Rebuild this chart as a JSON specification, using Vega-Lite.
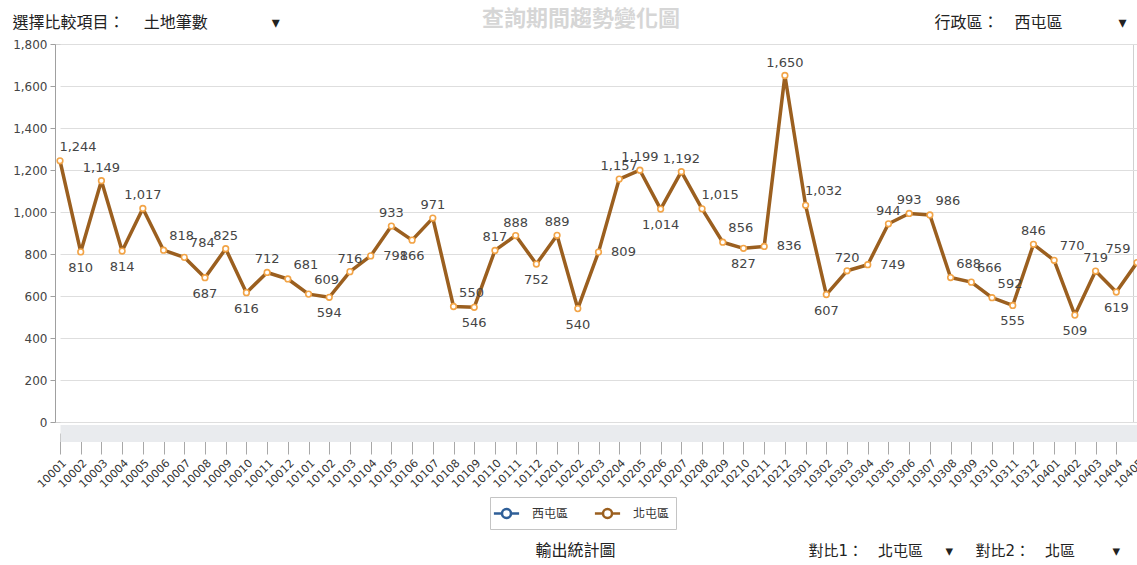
{
  "$schema": "https://vega.github.io/schema/vega-lite/v6.json",
  "width": 1078,
  "height": 378,
  "autosize": "none",
  "padding": {"left": 55, "top": 44, "right": 4, "bottom": 143},
  "background": "white",
  "title": {
    "text": "查詢期間趨勢變化圖",
    "color": "#d6d6d6",
    "fontSize": 22,
    "fontWeight": "bold",
    "font": "Noto Sans CJK TC",
    "anchor": "middle",
    "dx": -13,
    "dy": 25,
    "offset": 8
  },
  "data": {
    "values": [
      {"m": "10001", "v": 1244, "s": "北屯區"},
      {"m": "10002", "v": 810, "s": "北屯區"},
      {"m": "10003", "v": 1149, "s": "北屯區"},
      {"m": "10004", "v": 814, "s": "北屯區"},
      {"m": "10005", "v": 1017, "s": "北屯區"},
      {"m": "10006", "v": 818, "s": "北屯區"},
      {"m": "10007", "v": 784, "s": "北屯區"},
      {"m": "10008", "v": 687, "s": "北屯區"},
      {"m": "10009", "v": 825, "s": "北屯區"},
      {"m": "10010", "v": 616, "s": "北屯區"},
      {"m": "10011", "v": 712, "s": "北屯區"},
      {"m": "10012", "v": 681, "s": "北屯區"},
      {"m": "10101", "v": 609, "s": "北屯區"},
      {"m": "10102", "v": 594, "s": "北屯區"},
      {"m": "10103", "v": 716, "s": "北屯區"},
      {"m": "10104", "v": 791, "s": "北屯區"},
      {"m": "10105", "v": 933, "s": "北屯區"},
      {"m": "10106", "v": 866, "s": "北屯區"},
      {"m": "10107", "v": 971, "s": "北屯區"},
      {"m": "10108", "v": 550, "s": "北屯區"},
      {"m": "10109", "v": 546, "s": "北屯區"},
      {"m": "10110", "v": 817, "s": "北屯區"},
      {"m": "10111", "v": 888, "s": "北屯區"},
      {"m": "10112", "v": 752, "s": "北屯區"},
      {"m": "10201", "v": 889, "s": "北屯區"},
      {"m": "10202", "v": 540, "s": "北屯區"},
      {"m": "10203", "v": 809, "s": "北屯區"},
      {"m": "10204", "v": 1157, "s": "北屯區"},
      {"m": "10205", "v": 1199, "s": "北屯區"},
      {"m": "10206", "v": 1014, "s": "北屯區"},
      {"m": "10207", "v": 1192, "s": "北屯區"},
      {"m": "10208", "v": 1015, "s": "北屯區"},
      {"m": "10209", "v": 856, "s": "北屯區"},
      {"m": "10210", "v": 827, "s": "北屯區"},
      {"m": "10211", "v": 836, "s": "北屯區"},
      {"m": "10212", "v": 1650, "s": "北屯區"},
      {"m": "10301", "v": 1032, "s": "北屯區"},
      {"m": "10302", "v": 607, "s": "北屯區"},
      {"m": "10303", "v": 720, "s": "北屯區"},
      {"m": "10304", "v": 749, "s": "北屯區"},
      {"m": "10305", "v": 944, "s": "北屯區"},
      {"m": "10306", "v": 993, "s": "北屯區"},
      {"m": "10307", "v": 986, "s": "北屯區"},
      {"m": "10308", "v": 688, "s": "北屯區"},
      {"m": "10309", "v": 666, "s": "北屯區"},
      {"m": "10310", "v": 592, "s": "北屯區"},
      {"m": "10311", "v": 555, "s": "北屯區"},
      {"m": "10312", "v": 846, "s": "北屯區"},
      {"m": "10401", "v": 770, "s": "北屯區"},
      {"m": "10402", "v": 509, "s": "北屯區"},
      {"m": "10403", "v": 719, "s": "北屯區"},
      {"m": "10404", "v": 619, "s": "北屯區"},
      {"m": "10405", "v": 759, "s": "北屯區"}
    ]
  },
  "transform": [
    {
      "window": [
        {"op": "lag", "field": "v", "as": "prev"},
        {"op": "lead", "field": "v", "as": "next"}
      ],
      "sort": [{"field": "m", "order": "ascending"}]
    }
  ],
  "layer": [
    {
      "mark": {"type": "line", "strokeWidth": 3.5, "strokeJoin": "round"},
      "encoding": {
        "x": {
          "field": "m",
          "type": "ordinal",
          "sort": null,
          "scale": {"type": "point", "range": [5, 1082], "padding": 0},
          "axis": {
            "orient": "bottom",
            "title": "輸出統計圖",
            "titleFont": "Noto Sans CJK TC",
            "titleFontSize": 16,
            "titleFontWeight": "normal",
            "titleColor": "#222",
            "titleX": 520,
            "titleY": 117,
            "titleAlign": "center",
            "titleBaseline": "middle",
            "offset": 11,
            "domain": true,
            "domainWidth": 17,
            "domainColor": "#e9ebee",
            "ticks": true,
            "tickSize": 21,
            "tickColor": "#a8a8a8",
            "labelAngle": -45,
            "labelFont": "DejaVu Sans",
            "labelFontSize": 11,
            "labelColor": "#333",
            "labelPadding": 3,
            "labelOverlap": false,
            "grid": false
          }
        },
        "y": {
          "field": "v",
          "type": "quantitative",
          "scale": {"domain": [0, 1800]},
          "axis": {
            "orient": "left",
            "values": [0, 200, 400, 600, 800, 1000, 1200, 1400, 1600, 1800],
            "format": ",.0f",
            "title": "選擇比較項目：　\u2009土地筆數　　　\u2002\u2002▾",
            "titleFont": "DejaVu Sans, Noto Sans CJK TC",
            "titleFontSize": 16,
            "titleFontWeight": "normal",
            "titleColor": "#222",
            "titleAngle": 0,
            "titleAlign": "left",
            "titleBaseline": "middle",
            "titleX": -43,
            "titleY": -22,
            "labelFont": "DejaVu Sans",
            "labelFontSize": 12,
            "labelColor": "#444",
            "labelPadding": 3,
            "tickSize": 5,
            "tickColor": "#a0a0a0",
            "domainColor": "#a0a0a0",
            "grid": true,
            "gridColor": "#dedede"
          }
        },
        "color": {
          "field": "s",
          "type": "nominal",
          "scale": {"domain": ["西屯區", "北屯區"], "range": ["#2f5f98", "#9b5f1f"]},
          "legend": {
            "orient": "none",
            "legendX": 435,
            "legendY": 453,
            "direction": "horizontal",
            "title": null,
            "symbolType": "M-1.4,0H-0.5M0.5,0H1.4M-0.5,0A0.5,0.5,0,1,1,0.5,0A0.5,0.5,0,1,1,-0.5,0",
            "symbolSize": 324,
            "symbolStrokeWidth": 2.5,
            "labelFont": "Noto Sans CJK TC",
            "labelFontSize": 12,
            "labelColor": "#333",
            "labelOffset": 15,
            "columnPadding": 20,
            "padding": 6,
            "strokeColor": "#c4c4c4",
            "fillColor": "white",
            "encode": {"symbols": {"update": {"fill": {"value": "white"}}}}
          }
        }
      }
    },
    {
      "mark": {"type": "point", "filled": true, "fill": "white", "stroke": "#f2a447", "strokeWidth": 1.6, "size": 32, "opacity": 1},
      "encoding": {
        "x": {
          "field": "m",
          "type": "ordinal",
          "sort": null,
          "axis": {
            "orient": "top",
            "title": "行政區：　西屯區　　　\u2002▾",
            "labels": false,
            "ticks": false,
            "domain": false,
            "grid": false,
            "titleFont": "DejaVu Sans, Noto Sans CJK TC",
            "titleFontSize": 16,
            "titleFontWeight": "normal",
            "titleColor": "#222",
            "titleAngle": 0,
            "titleAlign": "left",
            "titleBaseline": "middle",
            "titleX": 879,
            "titleY": -22
          }
        },
        "y": {
          "field": "v",
          "type": "quantitative",
          "axis": {
            "orient": "right",
            "title": "對比1：　北屯區　\u2002▾　\u2002對比2：　北區　　\u2002▾",
            "labels": false,
            "ticks": false,
            "domain": false,
            "grid": false,
            "titleFont": "DejaVu Sans, Noto Sans CJK TC",
            "titleFontSize": 15,
            "titleFontWeight": "normal",
            "titleColor": "#222",
            "titleAngle": 0,
            "titleAlign": "left",
            "titleBaseline": "middle",
            "titleX": -325,
            "titleY": 506
          }
        }
      }
    },
    {
      "transform": [{"filter": "(datum.prev == null || datum.v < datum.prev) && (datum.next == null || datum.v < datum.next)"}],
      "mark": {"type": "text", "dy": 16, "font": "DejaVu Sans", "fontSize": 13, "color": "#454545"},
      "encoding": {
        "x": {"field": "m", "type": "ordinal", "sort": null, "axis": null},
        "y": {"field": "v", "type": "quantitative", "axis": null},
        "text": {"field": "v", "type": "quantitative", "format": ","}
      }
    },
    {
      "transform": [{"filter": "(datum.prev != null && datum.next != null && datum.v > datum.prev && datum.v > datum.next) || (datum.prev != null && datum.next != null && datum.v > datum.prev && datum.v < datum.next && (datum.next - datum.v) <= (datum.v - datum.prev))"}],
      "mark": {"type": "text", "dy": -13, "font": "DejaVu Sans", "fontSize": 13, "color": "#454545"},
      "encoding": {
        "x": {"field": "m", "type": "ordinal", "sort": null, "axis": null},
        "y": {"field": "v", "type": "quantitative", "axis": null},
        "text": {"field": "v", "type": "quantitative", "format": ","}
      }
    },
    {
      "transform": [{"filter": "datum.next == null && datum.v > datum.prev"}],
      "mark": {"type": "text", "dx": -19, "dy": -14, "font": "DejaVu Sans", "fontSize": 13, "color": "#454545"},
      "encoding": {
        "x": {"field": "m", "type": "ordinal", "sort": null, "axis": null},
        "y": {"field": "v", "type": "quantitative", "axis": null},
        "text": {"field": "v", "type": "quantitative", "format": ","}
      }
    },
    {
      "transform": [{"filter": "datum.prev == null || (datum.next != null && datum.v < datum.prev && datum.v > datum.next)"}],
      "mark": {"type": "text", "dx": 18, "dy": -14, "font": "DejaVu Sans", "fontSize": 13, "color": "#454545"},
      "encoding": {
        "x": {"field": "m", "type": "ordinal", "sort": null, "axis": null},
        "y": {"field": "v", "type": "quantitative", "axis": null},
        "text": {"field": "v", "type": "quantitative", "format": ","}
      }
    },
    {
      "transform": [{"filter": "datum.prev != null && datum.next != null && datum.v > datum.prev && datum.v < datum.next && (datum.next - datum.v) > (datum.v - datum.prev)"}],
      "mark": {"type": "text", "dx": 25, "dy": 0, "font": "DejaVu Sans", "fontSize": 13, "color": "#454545"},
      "encoding": {
        "x": {"field": "m", "type": "ordinal", "sort": null, "axis": null},
        "y": {"field": "v", "type": "quantitative", "axis": null},
        "text": {"field": "v", "type": "quantitative", "format": ","}
      }
    }
  ],
  "resolve": {"axis": {"x": "independent", "y": "independent"}},
  "config": {
    "view": {"stroke": "#d0d0d0"},
    "font": "DejaVu Sans"
  }
}
